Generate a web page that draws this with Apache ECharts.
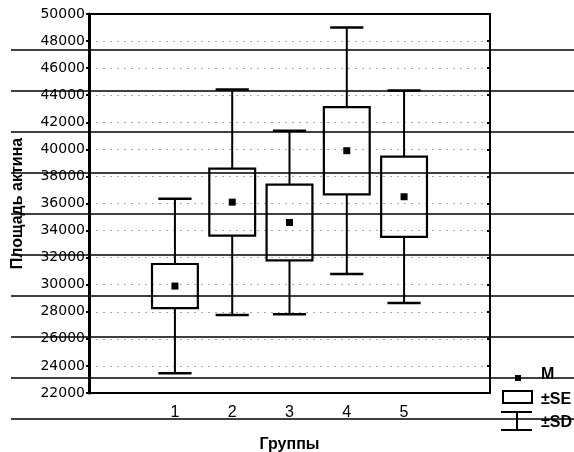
<!DOCTYPE html>
<html>
<head>
<meta charset="utf-8">
<script src="https://cdn.jsdelivr.net/npm/echarts@6/dist/echarts.min.js"></script>
<style>
  html, body { margin: 0; padding: 0; background: #fff; }
  #chart { width: 574px; height: 452px; }
</style>
</head>
<body>
<div id="chart"></div>
<script>
// slots on the x axis (Statistica leaves an empty one at each end)
const slots = ['0', '1', '2', '3', '4', '5', '6']
const groups = ['1', '2', '3', '4', '5']
// mean, standard error, standard deviation for each group
const means = [29900, 36100, 34600, 39900, 36500]
const se = [1630, 2480, 2800, 3220, 2960]
const sd = [6450, 8330, 6780, 9110, 7850]

const yMin = 22000
const yMax = 50000
const yStep = 2000

const boxData = groups.map(function (g, i) {
  return [slots.indexOf(g), means[i], se[i], sd[i]]
})

// ruled lines of the scanned sheet
const ruled = []
for (let k = 0; k < 10; k++) {
  const y = 50 + k * 41
  ruled.push({
    type: 'line',
    z: 100,
    silent: true,
    shape: { x1: 11, y1: y, x2: 574, y2: y },
    style: { stroke: '#000', lineWidth: 1.3 }
  })
}

const font = 'Liberation Sans, Arial, sans-serif'
const legendText = function (txt, y) {
  return {
    type: 'text', z: 50, left: 541, top: y,
    style: { text: txt, fill: '#000', font: 'bold 16px ' + font }
  }
}

const chart = echarts.init(document.getElementById('chart'))
chart.setOption({
  animation: false,
  grid: { left: 89, right: 84, top: 14, bottom: 59, outerBoundsMode: 'none', containLabel: false },
  xAxis: [
    {
      type: 'category',
      data: slots,
      position: 'bottom',
      boundaryGap: true,
      name: 'Группы',
      nameLocation: 'middle',
      nameGap: 44,
      nameTextStyle: { color: '#000', fontFamily: font, fontWeight: 'bold', fontSize: 16 },
      axisLine: { lineStyle: { color: '#000', width: 2 } },
      axisTick: { inside: true, length: 3, alignWithLabel: true, interval: 0, lineStyle: { color: '#000', width: 2 } },
      axisLabel: {
        interval: 0, margin: 12, color: '#000', fontFamily: font, fontSize: 16,
        formatter: function (v) { return groups.indexOf(v) >= 0 ? v : '' }
      },
      splitLine: { show: false }
    },
    {
      type: 'category',
      data: slots,
      position: 'top',
      boundaryGap: true,
      axisLine: { lineStyle: { color: '#000', width: 2 } },
      axisTick: { inside: true, length: 3, alignWithLabel: true, interval: 0, lineStyle: { color: '#000', width: 2 } },
      axisLabel: { show: false },
      splitLine: { show: false }
    }
  ],
  yAxis: [
    {
      type: 'value',
      min: yMin,
      max: yMax,
      interval: yStep,
      position: 'left',
      name: 'Площадь актина',
      nameLocation: 'middle',
      nameGap: 63,
      nameTextStyle: { color: '#000', fontFamily: font, fontWeight: 'bold', fontSize: 16 },
      axisLine: { show: true, lineStyle: { color: '#000', width: 3 } },
      axisTick: { show: true, length: 3, lineStyle: { color: '#000', width: 2 } },
      axisLabel: {
        margin: 4, color: '#000', fontFamily: 'DejaVu Sans', fontSize: 14,
        formatter: function (v) { return String(v) }
      },
      splitLine: { show: true, lineStyle: { color: '#aaa', width: 1, type: [2, 5] } }
    },
    {
      type: 'value',
      min: yMin,
      max: yMax,
      interval: yStep,
      position: 'right',
      axisLine: { show: true, lineStyle: { color: '#000', width: 2 } },
      axisTick: { show: true, inside: true, length: 3, lineStyle: { color: '#000', width: 2 } },
      axisLabel: { show: false },
      splitLine: { show: false }
    }
  ],
  series: [
    {
      type: 'custom',
      xAxisIndex: 0,
      yAxisIndex: 0,
      data: boxData,
      encode: { x: 0, y: 1 },
      renderItem: function (params, api) {
        const x = api.value(0)
        const m = api.value(1)
        const e = api.value(2)
        const d = api.value(3)
        const band = api.size([1, 0])[0]
        const boxHalf = band * 0.4
        const capHalf = band * 0.29
        const pMean = api.coord([x, m])
        const pSeHi = api.coord([x, m + e])
        const pSeLo = api.coord([x, m - e])
        const pSdHi = api.coord([x, m + d])
        const pSdLo = api.coord([x, m - d])
        const cx = pMean[0]
        const line = function (x1, y1, x2, y2, w) {
          return { type: 'line', shape: { x1: x1, y1: y1, x2: x2, y2: y2 }, style: { stroke: '#000', lineWidth: w } }
        }
        return {
          type: 'group',
          children: [
            line(cx, pSdHi[1], cx, pSeHi[1], 2),
            line(cx, pSeLo[1], cx, pSdLo[1], 2),
            line(cx - capHalf, pSdHi[1], cx + capHalf, pSdHi[1], 2.5),
            line(cx - capHalf, pSdLo[1], cx + capHalf, pSdLo[1], 2.5),
            {
              type: 'rect',
              shape: { x: cx - boxHalf, y: pSeHi[1], width: boxHalf * 2, height: pSeLo[1] - pSeHi[1] },
              style: { fill: 'none', stroke: '#000', lineWidth: 2.2 }
            },
            {
              type: 'rect',
              shape: { x: cx - 3.5, y: pMean[1] - 3.5, width: 7, height: 7 },
              style: { fill: '#000' }
            }
          ]
        }
      }
    }
  ],
  graphic: ruled.concat([
    { type: 'rect', z: 50, shape: { x: 515, y: 375, width: 6, height: 6 }, style: { fill: '#000' } },
    { type: 'rect', z: 50, shape: { x: 503, y: 391, width: 29, height: 12 }, style: { fill: 'none', stroke: '#000', lineWidth: 2 } },
    { type: 'line', z: 50, shape: { x1: 501, y1: 412, x2: 532, y2: 412 }, style: { stroke: '#000', lineWidth: 2 } },
    { type: 'line', z: 50, shape: { x1: 517, y1: 412, x2: 517, y2: 430 }, style: { stroke: '#000', lineWidth: 2 } },
    { type: 'line', z: 50, shape: { x1: 501, y1: 430, x2: 532, y2: 430 }, style: { stroke: '#000', lineWidth: 2 } },
    legendText('M', 367),
    legendText('±SE', 392),
    legendText('±SD', 415)
  ])
})
</script>
</body>
</html>
